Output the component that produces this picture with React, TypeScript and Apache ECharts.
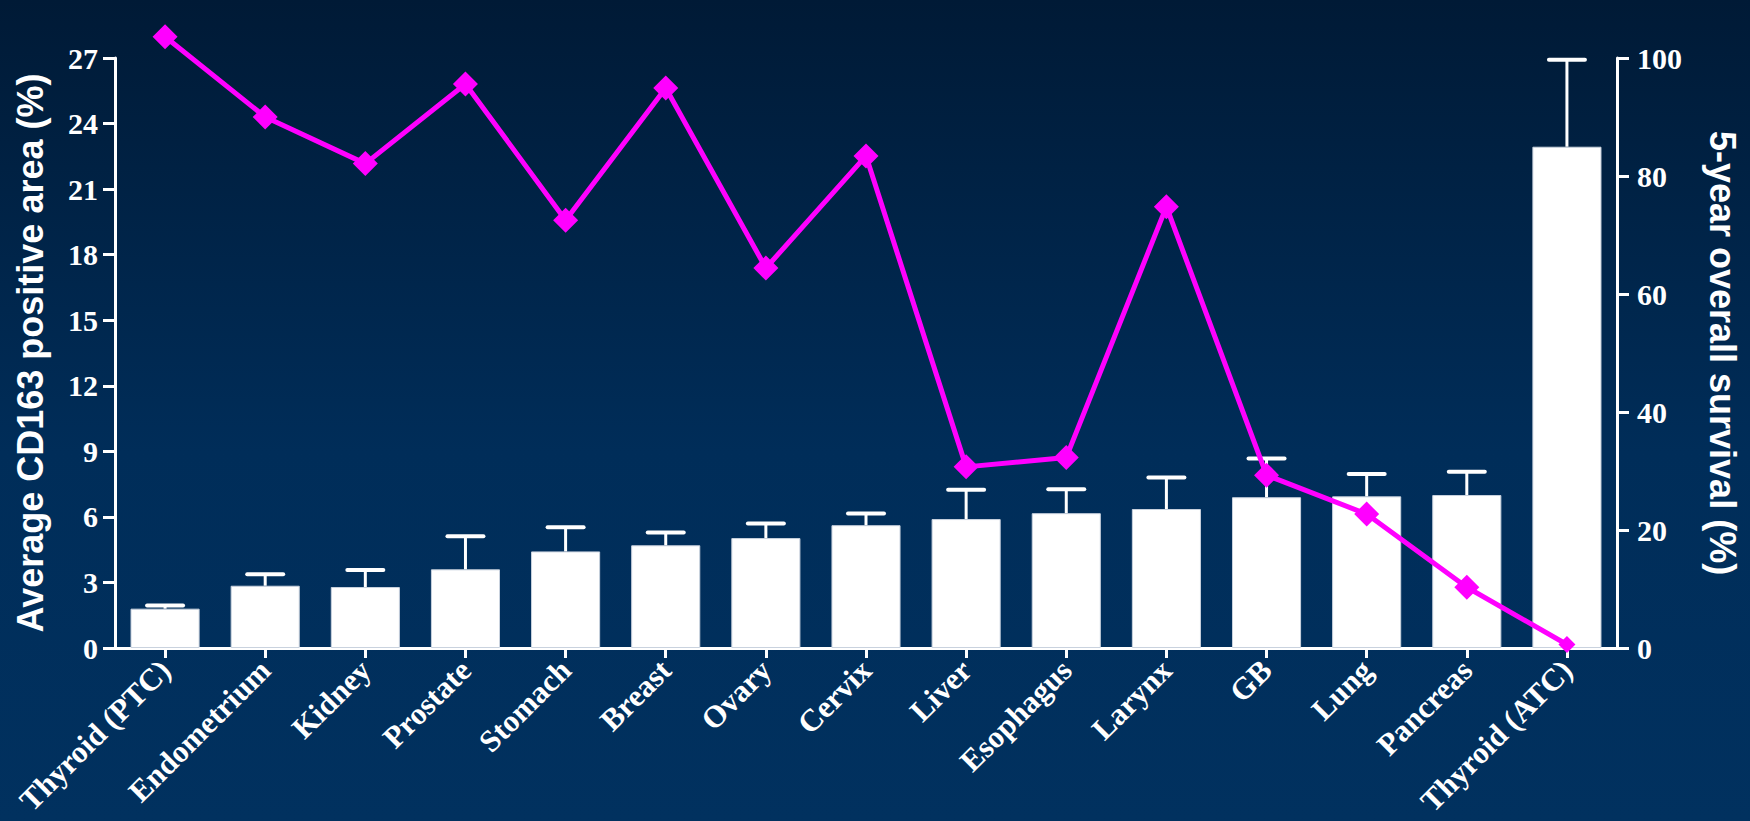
import React, { useEffect, useRef } from "react";
import * as echarts from "echarts";

const categories = [
  "Thyroid (PTC)", "Endometrium", "Kidney", "Prostate", "Stomach", "Breast", "Ovary",
  "Cervix", "Liver", "Esophagus", "Larynx", "GB", "Lung", "Pancreas", "Thyroid (ATC)",
];
const cd163Mean = [1.8, 2.85, 2.79, 3.6, 4.42, 4.7, 5.03, 5.62, 5.9, 6.17, 6.36, 6.9, 6.94, 7.0, 22.94];
const cd163Err = [0.15, 0.53, 0.78, 1.51, 1.11, 0.58, 0.67, 0.54, 1.34, 1.1, 1.44, 1.77, 1.02, 1.07, 3.98];
const survival = [103.6, 90, 82.1, 95.6, 72.5, 94.9, 64.4, 83.4, 30.7, 32.3, 74.8, 29.3, 22.7, 10.3, 0.6];
const leftTicks = { min: 0, max: 27, interval: 3 };
const rightTicks = { min: 0, max: 100, interval: 20 };

const SERIF = "'Liberation Serif', 'Times New Roman', serif";
const SANS = "'Liberation Sans', Arial, sans-serif";

export default function App() {
  const ref = useRef<HTMLDivElement>(null);
  useEffect(() => {
    document.body.style.margin = "0";
    const chart = echarts.init(ref.current!, null, { renderer: "svg" });
    const axisLabelStyle = { color: "#ffffff", fontFamily: SERIF, fontWeight: "bold" as const, fontSize: 30 };
    const axisLine = { show: true, lineStyle: { color: "#ffffff", width: 3 } };
    chart.setOption({
      animation: false,
      backgroundColor: {
        type: "linear", x: 0, y: 0, x2: 0, y2: 1,
        colorStops: [
          { offset: 0, color: "#001a36" },
          { offset: 0.55, color: "#002d59" },
          { offset: 1, color: "#01315f" },
        ],
      },
      grid: { left: 115, right: 133, top: 58, bottom: 173, containLabel: false },
      xAxis: {
        type: "category",
        data: categories,
        boundaryGap: true,
        axisLine,
        axisTick: { show: true, alignWithLabel: true, length: 10, lineStyle: { color: "#ffffff", width: 3 } },
        axisLabel: { ...axisLabelStyle, fontSize: 31, rotate: 45, interval: 0, margin: 17 },
        splitLine: { show: false },
      },
      yAxis: [
        {
          type: "value", position: "left", ...leftTicks,
          axisLine,
          axisTick: { show: true, length: 12, lineStyle: { color: "#ffffff", width: 3 } },
          axisLabel: { ...axisLabelStyle, margin: 17 },
          splitLine: { show: false },
          name: "Average CD163 positive area (%)",
          nameLocation: "middle",
          nameRotate: 90,
          nameGap: 67,
          nameTextStyle: { color: "#ffffff", fontFamily: SANS, fontWeight: "bold", fontSize: 36 },
        },
        {
          type: "value", position: "right", ...rightTicks,
          axisLine,
          axisTick: { show: true, length: 12, lineStyle: { color: "#ffffff", width: 3 } },
          axisLabel: { ...axisLabelStyle, margin: 20 },
          splitLine: { show: false },
          name: "5-year overall survival (%)",
          nameLocation: "middle",
          nameRotate: -90,
          nameGap: 87,
          nameTextStyle: { color: "#ffffff", fontFamily: SANS, fontWeight: "bold", fontSize: 36 },
        },
      ],
      series: [
        {
          type: "bar",
          yAxisIndex: 0,
          data: cd163Mean,
          barWidth: "69%",
          itemStyle: { color: "#ffffff", borderColor: "#c9d2de", borderWidth: 1 },
          z: 2,
        },
        {
          type: "custom",
          yAxisIndex: 0,
          data: categories.map((_, i) => [i, cd163Mean[i], cd163Err[i]]),
          encode: { x: 0, y: 1 },
          z: 3,
          renderItem: (params: any, api: any) => {
            const i = api.value(0);
            const v = api.value(1);
            const e = api.value(2);
            const base = api.coord([i, v]);
            const top = api.coord([i, v + e]);
            const hw = 18;
            return {
              type: "group",
              children: [
                { type: "line", shape: { x1: base[0], y1: base[1], x2: top[0], y2: top[1] }, style: { stroke: "#ffffff", lineWidth: 3 } },
                { type: "line", shape: { x1: top[0] - hw, y1: top[1], x2: top[0] + hw, y2: top[1] }, style: { stroke: "#ffffff", lineWidth: 4, lineCap: "round" } },
              ],
            };
          },
        },
        {
          type: "line",
          yAxisIndex: 1,
          data: survival.map((v, i) => ({ value: v, symbolSize: i === survival.length - 1 ? 17 : 25 })),
          symbol: "diamond",
          clip: false,
          lineStyle: { color: "#ff00ff", width: 5 },
          itemStyle: { color: "#ff00ff" },
          z: 5,
        },
      ],
    });
    return () => chart.dispose();
  }, []);
  return <div ref={ref} style={{ width: 1750, height: 821 }} />;
}
